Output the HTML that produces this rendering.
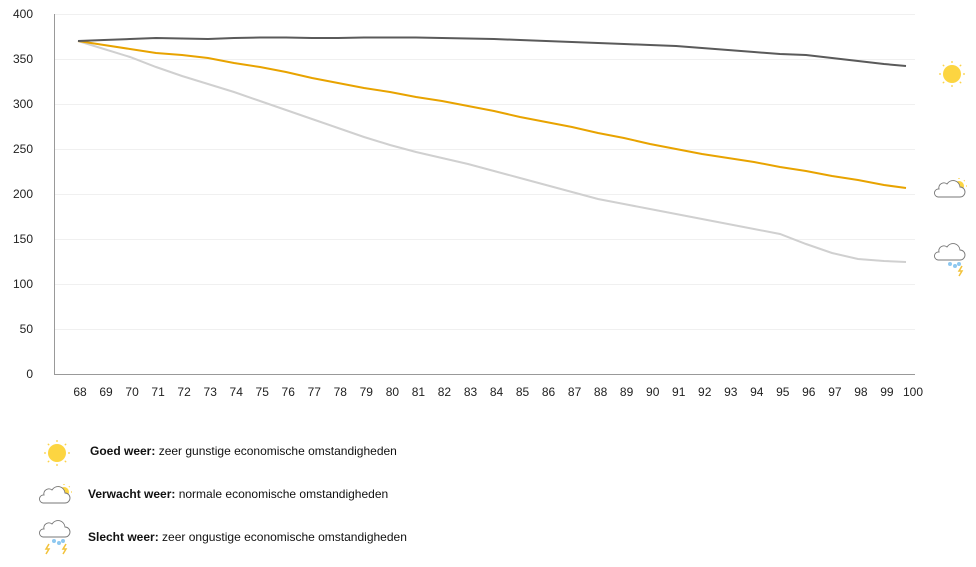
<!DOCTYPE html>
<html><head><meta charset="utf-8"><style>
body{margin:0;background:#fff;width:976px;height:562px;overflow:hidden;font-family:"Liberation Sans",sans-serif}
</style></head><body>
<svg width="976" height="562" xmlns="http://www.w3.org/2000/svg" font-family="Liberation Sans, sans-serif">
<g stroke="#f0f0f0" stroke-width="1">
<line x1="55" x2="915" y1="14.5" y2="14.5"/><line x1="55" x2="915" y1="59.5" y2="59.5"/><line x1="55" x2="915" y1="104.5" y2="104.5"/><line x1="55" x2="915" y1="149.5" y2="149.5"/><line x1="55" x2="915" y1="194.5" y2="194.5"/><line x1="55" x2="915" y1="239.5" y2="239.5"/><line x1="55" x2="915" y1="284.5" y2="284.5"/><line x1="55" x2="915" y1="329.5" y2="329.5"/>
</g>
<line x1="54.5" x2="54.5" y1="14" y2="374" stroke="#999"/>
<line x1="54" x2="915" y1="374.5" y2="374.5" stroke="#999"/>
<g font-size="12" fill="#222" text-anchor="end">
<text x="33" y="18">400</text><text x="33" y="63">350</text><text x="33" y="108">300</text><text x="33" y="153">250</text><text x="33" y="198">200</text><text x="33" y="243">150</text><text x="33" y="288">100</text><text x="33" y="333">50</text><text x="33" y="378">0</text>
</g>
<g font-size="12" fill="#222" text-anchor="middle" id="xl"></g>
<polyline fill="none" stroke="#d0d0d0" stroke-width="2" points="78,41 104,49 130,57 156,67 182,76 208,84 234,92 260,101 286,110 312,119 338,128 364,137 390,145 416,152 442,158 468,164 494,171 520,178 546,185 572,192 598,199 624,204 650,209 676,214 702,219 728,224 754,229 780,234 806,244 832,253 858,259 884,261 906,262"/>
<polyline fill="none" stroke="#e8a300" stroke-width="2" points="78,41 104,45 130,49 156,53 182,55 208,58 234,63 260,67 286,72 312,78 338,83 364,88 390,92 416,97 442,101 468,106 494,111 520,117 546,122 572,127 598,133 624,138 650,144 676,149 702,154 728,158 754,162 780,167 806,171 832,176 858,180 884,185 906,188"/>
<polyline fill="none" stroke="#5a5a5a" stroke-width="2" points="78,41 104,40 130,39 156,38 182,38.5 208,39 234,38 260,37.5 286,37.5 312,38 338,38 364,37.5 390,37.5 416,37.5 442,38 468,38.5 494,39 520,40 546,41 572,42 598,43 624,44 650,45 676,46 702,48 728,50 754,52 780,54 806,55 832,58 858,61 884,64 906,66"/>
<g id="sun1"></g>
</svg>
<script>
var g=document.getElementById('xl'),s='';
for(var i=0;i<=32;i++){s+='<text x="'+(80+i*26.03).toFixed(1)+'" y="396">'+(68+i)+'</text>';}
g.innerHTML=s;
function sun(cx,cy,r,L){var o='<g stroke="#fbd34a" stroke-width="1.3">';for(var k=0;k<8;k++){var a=k*Math.PI/4;o+='<line x1="'+(cx+Math.cos(a)*(r+2))+'" y1="'+(cy+Math.sin(a)*(r+2))+'" x2="'+(cx+Math.cos(a)*(r+L))+'" y2="'+(cy+Math.sin(a)*(r+L))+'"/>';}return o+'</g><circle cx="'+cx+'" cy="'+cy+'" r="'+r+'" fill="#fcd541"/>';}
function cloud(x,y){return '<path d="M'+x+','+(y+12)+' h22 a5,5 0 0 0 0,-10 a7,7 0 0 0 -13,-3 a5,5 0 0 0 -8,5 a4,4 0 0 0 -1,8z" fill="#fff" stroke="#777" stroke-width="0.9"/>';}
var h='';
h+=sun(952,74,9,4);
h+=sun(959,186,5,3)+cloud(938,185);
h+=cloud(938,248)+'<g fill="#8ec8f0"><circle cx="950" cy="264" r="2"/><circle cx="955" cy="266" r="2"/><circle cx="959" cy="264" r="2"/></g><path d="M962,266 l-3,5 h3 l-3,5" stroke="#f2c23a" stroke-width="1.5" fill="none"/>';
h+=sun(57,453,9,4);
h+=sun(64,492,5,3)+cloud(43,491);
h+=cloud(43,525)+'<g fill="#8ec8f0"><circle cx="54" cy="541" r="2"/><circle cx="59" cy="543" r="2"/><circle cx="63" cy="541" r="2"/></g><path d="M49,544 l-3,5 h3 l-3,5 M66,544 l-3,5 h3 l-3,5" stroke="#f2c23a" stroke-width="1.5" fill="none"/>';
h+='<g font-size="12" fill="#111"><text x="90" y="455"><tspan font-weight="bold">Goed weer:</tspan> zeer gunstige economische omstandigheden</text><text x="88" y="498"><tspan font-weight="bold">Verwacht weer:</tspan> normale economische omstandigheden</text><text x="88" y="541"><tspan font-weight="bold">Slecht weer:</tspan> zeer ongustige economische omstandigheden</text></g>';
document.getElementById('sun1').innerHTML=h;
</script>
</body></html>
